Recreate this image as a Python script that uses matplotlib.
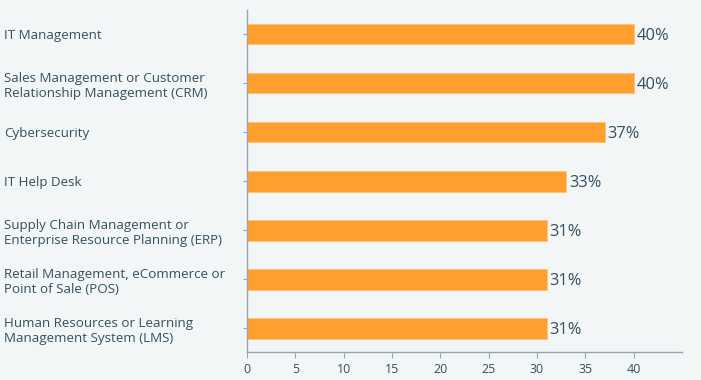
import matplotlib.pyplot as plt

categories = [
    "IT Management",
    "Sales Management or Customer\nRelationship Management (CRM)",
    "Cybersecurity",
    "IT Help Desk",
    "Supply Chain Management or\nEnterprise Resource Planning (ERP)",
    "Retail Management, eCommerce or\nPoint of Sale (POS)",
    "Human Resources or Learning\nManagement System (LMS)",
]
values = [40, 40, 37, 33, 31, 31, 31]
xticks = [0, 5, 10, 15, 20, 25, 30, 35, 40]

bg = "#f2f6f7"
txt = "#34505f"
bar_color = "#ff9f2d"

plt.rcParams["font.family"] = ["Open Sans", "DejaVu Sans"]

fig = plt.figure(figsize=(7.01, 3.8), dpi=100, facecolor=bg)
ax = fig.add_axes([0.3524, 0.0737, 0.6206, 0.90])
ax.set_facecolor(bg)

y = list(range(len(categories)))
ax.barh(y, values, height=0.42, color=bar_color, edgecolor="#ffc07a", linewidth=0.6)
for yi, v in zip(y, values):
    ax.text(v + 0.3, yi + 0.03, f"{v}%", va="center", ha="left", fontsize=11.8, color=txt)

ax.set_xlim(0, 45)
ax.set_ylim(6.48, -0.49)
ax.set_xticks(xticks)
ax.set_xticklabels([str(t) for t in xticks], fontsize=9, color=txt)
ax.set_yticks(y)
ax.set_yticklabels(categories, fontsize=9.65, color=txt, ha="left", linespacing=1.25)
ax.tick_params(axis="y", length=3, color="#9aa5ab", pad=172)
ax.tick_params(axis="x", length=4, color="#9aa5ab", pad=4)

for s in ["top", "right"]:
    ax.spines[s].set_visible(False)
for s in ["left", "bottom"]:
    ax.spines[s].set_color("#9aa5ab")
    ax.spines[s].set_linewidth(1)

plt.savefig("out.png", dpi=100, facecolor=bg)
